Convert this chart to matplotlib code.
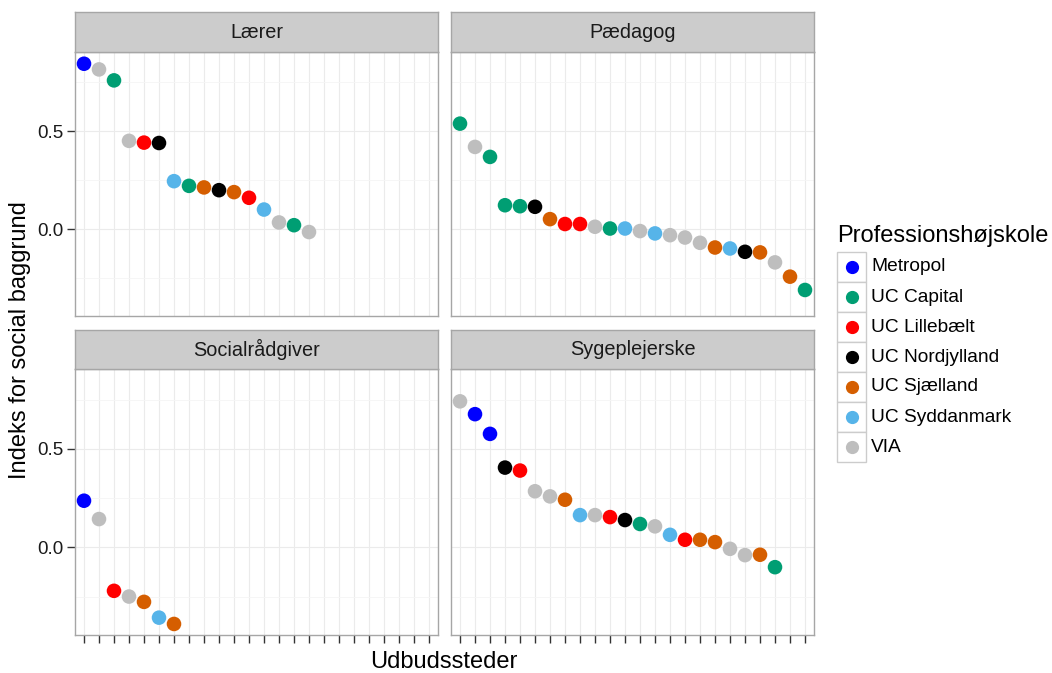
"""Faceted dot plot: index for social background per education site."""

import matplotlib

matplotlib.use("Agg")
import matplotlib.pyplot as plt
from matplotlib.patches import Rectangle

plt.rcParams["font.family"] = ["Liberation Sans", "DejaVu Sans"]

SCHOOLS = ["Metropol", "UC Capital", "UC Lillebælt", "UC Nordjylland",
           "UC Sjælland", "UC Syddanmark", "VIA"]
COLORS = ["#0000FF", "#009E73", "#FF0000", "#000000",
          "#D55E00", "#56B4E9", "#BEBEBE"]

FACETS = ["Lærer", "Pædagog", "Socialrådgiver", "Sygeplejerske"]

laerer_school = ["Metropol", "VIA", "UC Capital", "VIA", "UC Lillebælt",
                 "UC Nordjylland", "UC Syddanmark", "UC Capital", "UC Sjælland",
                 "UC Nordjylland", "UC Sjælland", "UC Lillebælt", "UC Syddanmark",
                 "VIA", "UC Capital", "VIA"]
laerer_value = [0.845, 0.816, 0.760, 0.451, 0.442, 0.440, 0.245, 0.221, 0.213,
                0.199, 0.189, 0.160, 0.100, 0.034, 0.020, -0.015]

paedagog_school = ["UC Capital", "VIA", "UC Capital", "UC Capital", "UC Capital",
                   "UC Nordjylland", "UC Sjælland", "UC Lillebælt", "UC Lillebælt",
                   "VIA", "UC Capital", "UC Syddanmark", "VIA", "UC Syddanmark",
                   "VIA", "VIA", "VIA", "UC Sjælland", "UC Syddanmark",
                   "UC Nordjylland", "UC Sjælland", "VIA", "UC Sjælland",
                   "UC Capital"]
paedagog_value = [0.539, 0.420, 0.369, 0.122, 0.117, 0.114, 0.051, 0.026, 0.026,
                  0.012, 0.003, 0.003, -0.010, -0.022, -0.031, -0.043, -0.070,
                  -0.094, -0.099, -0.116, -0.119, -0.170, -0.243, -0.311]

social_school = ["Metropol", "VIA", "UC Lillebælt", "VIA", "UC Sjælland",
                 "UC Syddanmark", "UC Sjælland"]
social_value = [0.237, 0.144, -0.220, -0.249, -0.276, -0.356, -0.388]

syge_school = ["VIA", "Metropol", "Metropol", "UC Nordjylland", "UC Lillebælt",
               "VIA", "VIA", "UC Sjælland", "UC Syddanmark", "VIA", "UC Lillebælt",
               "UC Nordjylland", "UC Capital", "VIA", "UC Syddanmark",
               "UC Lillebælt", "UC Sjælland", "UC Sjælland", "VIA", "VIA",
               "UC Sjælland", "UC Capital"]
syge_value = [0.741, 0.676, 0.576, 0.405, 0.390, 0.285, 0.259, 0.242, 0.164,
              0.164, 0.154, 0.139, 0.119, 0.107, 0.064, 0.039, 0.039, 0.027,
              -0.007, -0.039, -0.037, -0.100]

N_SLOTS = 24

W, H = 1052, 673


def px_rect(x0, y0, x1, y1):
    """Convert pixel box (top-left origin) to figure fraction rect."""
    return [x0 / W, 1 - y1 / H, (x1 - x0) / W, (y1 - y0) / H]


def main() -> None:
    fig = plt.figure(figsize=(W / 100, H / 100), dpi=100)
    color_of = dict(zip(SCHOOLS, COLORS))
    data = [(laerer_school, laerer_value), (paedagog_school, paedagog_value),
            (social_school, social_value), (syge_school, syge_value)]

    cols = [(75, 438), (451, 814)]
    rows = [(12, 52, 316), (330, 369, 635)]

    for i, (title, (schools, values)) in enumerate(zip(FACETS, data)):
        r, c = divmod(i, 2)
        x0, x1 = cols[c]
        s0, p0, p1 = rows[r]

        ax = fig.add_axes(px_rect(x0, p0, x1, p1))
        xs = list(range(1, len(values) + 1))
        ax.scatter(xs, values, c=[color_of[s] for s in schools], s=110,
                   linewidths=0, zorder=3)
        ax.set_xlim(0.4, N_SLOTS + 0.6)
        ax.set_ylim(-0.444, 0.905)
        ax.set_xticks(range(1, N_SLOTS + 1))
        ax.set_yticks([0.0, 0.5])
        ax.set_yticks([-0.25, 0.25, 0.75], minor=True)
        ax.grid(True, which="major", color="#EBEBEB", linewidth=0.8, zorder=0)
        ax.grid(True, which="minor", axis="y", color="#F5F5F5",
                linewidth=0.6, zorder=0)
        ax.set_axisbelow(True)
        for sp in ax.spines.values():
            sp.set_color("#A6A6A6")
            sp.set_linewidth(1.0)
        ax.tick_params(which="minor", length=0)
        ax.tick_params(axis="both", which="major", color="#333333",
                       length=6, width=1.0, labelsize=13.5, labelcolor="#1a1a1a",
                       pad=2)
        ax.set_xticklabels([])
        if r == 0:
            ax.tick_params(axis="x", length=0)
        if c == 1:
            ax.tick_params(axis="y", length=0, labelleft=False)
        else:
            ax.set_yticklabels(["0.0", "0.5"])

        sax = fig.add_axes(px_rect(x0, s0, x1, p0))
        sax.set_xticks([])
        sax.set_yticks([])
        sax.set_facecolor("#CCCCCC")
        for sp in sax.spines.values():
            sp.set_color("#A6A6A6")
            sp.set_linewidth(1.0)
        sax.text(0.5, 0.5, title, ha="center", va="center", fontsize=14.3,
                 color="#1a1a1a", transform=sax.transAxes)

    fig.text(20 / W, 1 - 340 / H, "Indeks for social baggrund", rotation=90,
             ha="center", va="center", fontsize=17)
    fig.text(444 / W, 1 - 662 / H, "Udbudssteder", ha="center", va="center",
             fontsize=17)

    # legend
    fig.text(837 / W, 1 - 236 / H, "Professionshøjskole", ha="left",
             va="center", fontsize=17)
    for k, (name, col) in enumerate(zip(SCHOOLS, COLORS)):
        top = 252 + 30 * k
        fig.add_artist(Rectangle((837 / W, 1 - (top + 30) / H), 29 / W, 30 / H,
                                 transform=fig.transFigure, facecolor="white",
                                 edgecolor="#CCCCCC", linewidth=1.0))
        fig.add_artist(plt.Line2D([851.5 / W], [1 - (top + 15) / H],
                                  transform=fig.transFigure, marker="o",
                                  markersize=8.5, color=col, linestyle="none"))
        fig.text(871 / W, 1 - (top + 15) / H, name, ha="left", va="center",
                 fontsize=13.8)

    fig.savefig("out.png", dpi=100)
    plt.close(fig)


if __name__ == "__main__":
    main()
